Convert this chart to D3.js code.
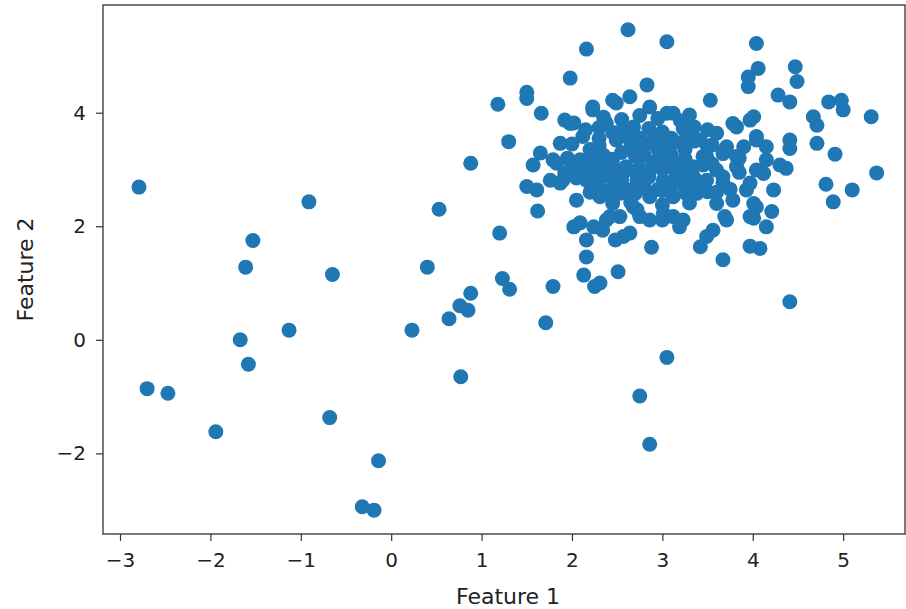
<!DOCTYPE html>
<html>
<head>
<meta charset="utf-8">
<script src="https://cdn.jsdelivr.net/npm/d3@7"></script>
<style>
  body { margin: 0; background: #fff; }
  text { font-family: "DejaVu Sans", sans-serif; }
</style>
</head>
<body>
<svg id="chart" width="906" height="609"></svg>
<script>
// Feature 1 values
const featureX = [
  -2.79,-0.91,-1.53,-1.61,-0.65,-1.13,-1.67,-1.58,-2.70,-2.47,-1.94,-0.68,-0.14,-0.32,-0.19,
  1.30,0.88,0.53,1.62,1.20,0.40,1.23,1.31,1.79,0.88,0.76,0.85,0.64,0.23,1.71,0.77,
  1.50,1.61,1.57,1.65,1.79,1.87,1.92,2.05,2.02,2.09,2.16,2.16,2.13,2.25,2.31,2.51,
  4.41,3.05,2.75,2.86,
  2.62,3.05,2.16,1.98,2.83,3.53,1.66,1.18,1.50,1.50,
  4.04,4.47,4.49,4.06,3.95,3.95,4.28,4.41,4.84,4.98,5.00,5.31,4.67,4.71,4.71,4.91,4.41,4.41,4.01,3.82,4.04,4.15,
  5.37,4.81,5.10,4.89,4.37,4.30,4.23,4.21,4.15,4.08,3.97,4.01,4.01,3.78,3.69,3.67,4.12,4.04,3.93,3.82,3.71,3.67,
  2.88,2.57,2.48,2.64,2.34,3.42,3.49,3.56,3.71,1.76,3.00,3.19,3.12,2.75,2.86,2.68,2.53,2.38,2.24,
  2.64,2.49,2.23,2.86,3.05,3.30,1.98,2.38,2.68,3.23,1.87,2.12,2.49,2.86,3.08,3.42,3.60,3.78,3.97,4.04,3.90,3.67,3.49,
  1.83,2.09,2.31,2.60,2.90,3.16,3.34,3.60,3.82,4.15,1.90,2.16,2.42,2.72,3.01,3.23,3.49,3.67,3.97,
  2.31,2.53,2.86,3.12,3.38,3.60,4.04,2.42,2.72,3.01,3.23,3.97,
  2.20,2.35,2.55,2.70,2.80,2.95,3.10,3.25,2.25,2.40,2.55,2.70,2.85,3.00,3.15,3.30,
  2.30,2.50,2.60,2.80,2.95,3.10,3.30,2.45,2.60,2.75,2.95,3.10,3.30,2.30,
  3.50,3.55,3.45,3.75,3.85,3.85,3.60,
  1.92,2.23,2.45,3.12,2.02,
  2.35,2.55,2.75,2.95,3.20,
  2.15,2.30,2.55,2.85,3.00,3.35,3.50,
  2.00,2.30,2.65,2.75,3.00,3.20,3.35,3.55,
  1.95,2.20,2.45,2.70,2.95,3.00,3.25,3.45,
  2.00,2.15,2.45,2.75,3.05,3.20,3.45,
  2.05,2.30,2.55,2.85,3.15,3.35,
  2.20,2.40,2.70,3.00,3.25,3.50,
  2.45,2.65,3.00,3.30
];
// Feature 2 values
const featureY = [
  2.69,2.43,1.75,1.28,1.15,0.17,0.00,-0.43,-0.86,-0.94,-1.62,-1.37,-2.13,-2.94,-3.00,
  3.49,3.11,2.30,2.27,1.88,1.28,1.08,0.89,0.94,0.82,0.60,0.52,0.37,0.17,0.30,-0.65,
  2.70,2.64,3.08,3.29,3.17,2.76,2.94,2.46,1.99,2.06,1.76,1.46,1.14,0.94,1.00,1.20,
  0.67,-0.31,-0.99,-1.84,
  5.46,5.25,5.12,4.61,4.49,4.22,3.99,4.15,4.36,4.25,
  5.22,4.81,4.55,4.78,4.63,4.46,4.31,4.19,4.19,4.22,4.05,3.93,3.93,3.78,3.46,3.27,3.52,3.37,3.93,3.75,3.52,3.40,
  2.94,2.74,2.64,2.43,3.02,3.08,2.64,2.26,1.99,1.61,1.65,2.14,2.40,2.46,2.17,1.41,2.93,2.99,2.64,3.23,3.40,2.76,
  1.63,1.82,1.76,1.88,1.93,1.64,1.82,1.93,2.11,2.81,2.11,1.99,2.17,2.17,2.11,2.34,2.17,2.11,1.99,
  4.28,4.17,4.10,4.10,3.99,3.96,3.81,3.81,3.75,3.72,3.46,3.58,3.52,3.46,3.40,3.52,3.64,3.81,3.87,3.58,3.40,3.28,3.23,
  3.11,3.17,3.11,3.05,3.11,3.11,3.05,2.99,3.05,3.17,2.81,2.81,2.87,2.81,2.81,2.76,2.81,2.87,2.76,
  2.52,2.58,2.52,2.52,2.58,2.40,2.34,2.17,2.29,2.23,2.11,2.17,
  3.35,3.25,3.30,3.40,3.25,3.35,3.25,3.35,3.00,2.95,2.90,2.95,2.95,3.00,2.95,2.90,
  2.70,2.70,2.65,2.68,2.65,2.70,2.70,3.65,3.60,3.55,3.60,3.55,3.60,3.55,
  3.40,3.10,2.70,2.65,2.95,3.20,2.60,
  3.87,4.05,4.22,3.99,3.82,
  3.92,3.88,3.95,3.90,3.86,
  3.70,3.74,3.68,3.72,3.66,3.75,3.70,
  3.45,3.42,3.48,3.44,3.40,3.47,3.50,3.43,
  3.20,3.22,3.18,3.24,3.17,3.21,3.19,3.23,
  3.05,3.02,3.07,3.03,3.06,3.01,3.08,
  2.85,2.88,2.83,2.87,2.84,2.86,
  2.60,2.62,2.58,2.63,2.59,2.61,
  2.40,2.42,2.38,2.41
];
const xTicks = [-3,-2,-1,0,1,2,3,4,5];
const yTicks = [-2,0,2,4];
const xLabel = "Feature 1";
const yLabel = "Feature 2";

const svg = d3.select("#chart");
const pL = 103, pR = 905, pT = 5, pB = 534;
const x = d3.scaleLinear().domain([-3.188, 5.684]).range([pL, pR]);
const y = d3.scaleLinear().domain([-3.42, 5.897]).range([pB, pT]);

const pts = featureX.map((v, i) => ({x: v, y: featureY[i]}));

svg.append("g")
  .selectAll("circle")
  .data(pts)
  .join("circle")
  .attr("cx", d => x(d.x))
  .attr("cy", d => y(d.y))
  .attr("r", 7.5)
  .attr("fill", "#1f77b4");

const xAxis = svg.append("g")
  .attr("transform", `translate(0,${pB})`)
  .call(d3.axisBottom(x).tickValues(xTicks).tickSize(7).tickSizeOuter(0).tickPadding(12));
const yAxis = svg.append("g")
  .attr("transform", `translate(${pL},0)`)
  .call(d3.axisLeft(y).tickValues(yTicks).tickSize(7).tickSizeOuter(0).tickPadding(10));
[xAxis, yAxis].forEach(g => {
  g.select(".domain").remove();
  g.selectAll("line").attr("stroke", "#333").attr("stroke-width", 1.2);
  g.selectAll("text").attr("font-size", 20).attr("fill", "#222").attr("font-family", "DejaVu Sans");
});

svg.append("rect")
  .attr("x", pL).attr("y", pT)
  .attr("width", pR - pL).attr("height", pB - pT)
  .attr("fill", "none").attr("stroke", "#333").attr("stroke-width", 1.3);

svg.append("text")
  .attr("x", 508)
  .attr("y", 604)
  .attr("text-anchor", "middle")
  .attr("font-size", 22)
  .attr("fill", "#222")
  .text(xLabel);

svg.append("text")
  .attr("transform", `translate(33,${(pT + pB) / 2}) rotate(-90)`)
  .attr("text-anchor", "middle")
  .attr("font-size", 22)
  .attr("fill", "#222")
  .text(yLabel);
</script>
</body>
</html>
